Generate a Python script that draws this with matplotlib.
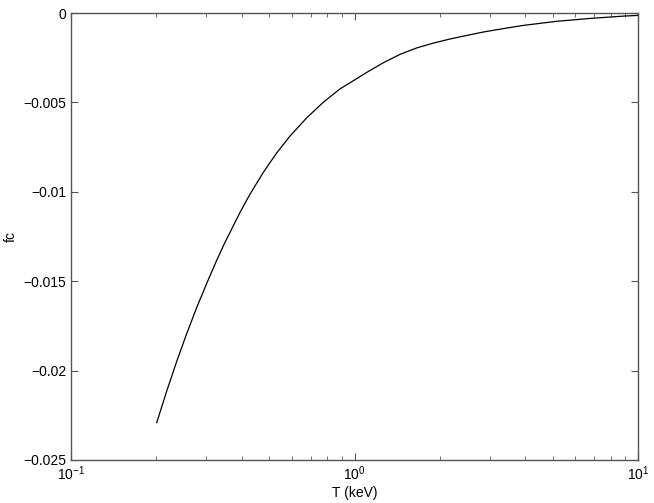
import matplotlib
matplotlib.use("Agg")
import matplotlib.pyplot as plt
from matplotlib.ticker import LogLocator, LogFormatterMathtext

plt.rcParams['font.family'] = 'Liberation Sans'
plt.rcParams['mathtext.fontset'] = 'custom'
plt.rcParams['mathtext.rm'] = 'Liberation Sans'
plt.rcParams['mathtext.it'] = 'Liberation Sans:italic'

# values
T = [0.2006, 0.2176, 0.2359, 0.2559, 0.2776, 0.3011, 0.3265, 0.3465, 0.3946,
     0.4279, 0.4768, 0.5316, 0.5922, 0.6783, 0.776, 0.889, 1.0397, 1.104,
     1.2634, 1.447, 1.657, 1.897, 2.173, 2.488, 2.847, 3.262, 3.938, 5.168,
     6.771, 8.874, 10.0]
fc = [-0.02291, -0.02114, -0.01949, -0.01793, -0.01647, -0.01512, -0.01383,
      -0.01294, -0.01115, -0.01013, -0.00891, -0.00782, -0.00688, -0.00586,
      -0.00499, -0.00424, -0.00358, -0.00332, -0.00278, -0.00231, -0.00195,
      -0.00168, -0.00145, -0.00125, -0.00106, -0.00090, -0.00069, -0.00046,
      -0.00030, -0.00017, -0.00013]

yticks = [-0.025, -0.02, -0.015, -0.01, -0.005, 0]
ytick_labels = ['\u22120.025', '\u22120.02', '\u22120.015', '\u22120.01', '\u22120.005', '0']

fig = plt.figure(figsize=(6.54, 5.03), dpi=100)
ax = fig.add_axes([0.1086, 0.0855, 0.8669, 0.8885])

ax.semilogx(T, fc, color='black', lw=0.9)
ax.set_xlim(0.1, 10)
ax.set_ylim(-0.025, 0)
ax.set_yticks(yticks)
ax.set_yticklabels(ytick_labels)
ax.xaxis.set_major_locator(LogLocator(base=10))
ax.xaxis.set_major_formatter(LogFormatterMathtext())
ax.xaxis.set_minor_locator(LogLocator(base=10, subs=range(2, 10)))

for s in ax.spines.values():
    s.set_color('#555555')
    s.set_linewidth(1.0)
ax.tick_params(which='both', direction='in', top=True, right=True,
               colors='#555555', labelcolor='black', labelsize=10)
ax.tick_params(which='major', length=5)
ax.tick_params(which='minor', length=3)

ax.set_xlabel('T (keV)', fontsize=10, labelpad=2)
ax.set_ylabel('fc', fontsize=10)
ax.yaxis.set_label_coords(-0.0935, 0.5)

fig.savefig('out.png', dpi=100)
